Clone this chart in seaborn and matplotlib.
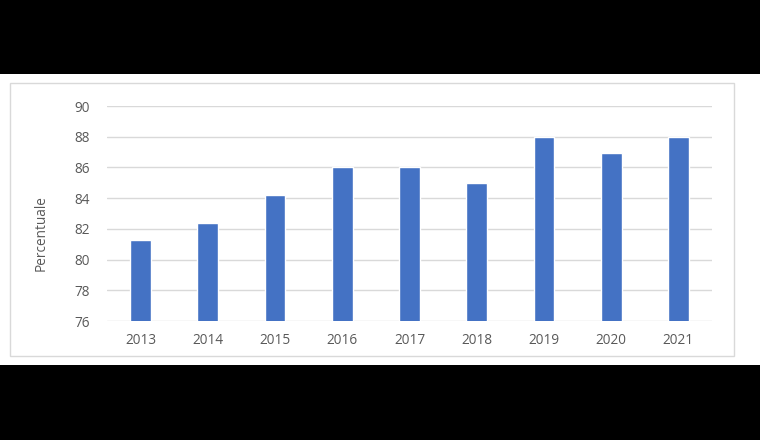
import matplotlib.pyplot as plt
from matplotlib.patches import Rectangle
import seaborn as sns
import pandas as pd

# dati
anni = ['2013', '2014', '2015', '2016', '2017', '2018', '2019', '2020', '2021']
percentuale = [81.3, 82.4, 84.2, 86.0, 86.0, 85.0, 87.95, 86.95, 87.95]
y_ticks = [76, 78, 80, 82, 84, 86, 88, 90]

df = pd.DataFrame({'anno': anni, 'perc': percentuale})

sns.set_theme(style='white')
plt.rcParams['font.family'] = ['Open Sans', 'DejaVu Sans']

fig = plt.figure(figsize=(7.6, 4.4), dpi=100, facecolor='black')

# fascia bianca e cornice del grafico (sotto gli assi)
fig.patches.append(Rectangle((0, 1 - 365 / 440), 1, (365 - 74) / 440,
                             transform=fig.transFigure, facecolor='white',
                             edgecolor='none', zorder=-2))
fig.patches.append(Rectangle((10 / 760, 1 - 356 / 440), 724 / 760, 273 / 440,
                             transform=fig.transFigure, facecolor='white',
                             edgecolor='#d9d9d9', linewidth=1, zorder=-1))

ax = fig.add_axes([107 / 760, 1 - 321 / 440, 605 / 760, 215 / 440])
ax.set_facecolor('none')

sns.barplot(data=df, x='anno', y='perc', color='#4472C4', width=0.31,
            saturation=1, ax=ax, zorder=3)

ax.set_ylim(76, 90)
ax.set_xlim(-0.5, len(anni) - 0.5)
ax.set_yticks(y_ticks)
ax.yaxis.grid(True, color='#d9d9d9', linewidth=1, zorder=0)
ax.set_axisbelow(True)
for s in ax.spines.values():
    s.set_visible(False)

ax.tick_params(axis='both', length=0, colors='#595959', labelsize=9.8)
ax.tick_params(axis='y', pad=12)
ax.tick_params(axis='x', pad=9)
ax.set_xlabel('')
ax.set_ylabel('Percentuale', color='#595959', fontsize=9.8)
ax.yaxis.set_label_coords(-0.097, 0.41)

fig.savefig('out.png', dpi=100, facecolor='black')
